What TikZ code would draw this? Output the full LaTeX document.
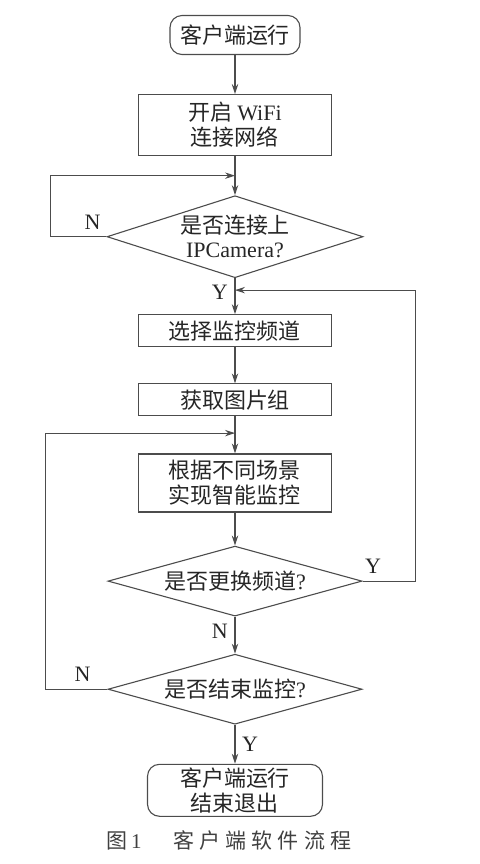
\documentclass[tikz,border=0pt]{standalone}
\usepackage{fontspec}
\setmainfont{Liberation Serif}
\newfontfamily\cjk{Noto Sans CJK SC}
\newfontfamily\cjkcap{Noto Sans CJK SC}[LetterSpace=25]
\usetikzlibrary{positioning,arrows.meta,calc,shapes.geometric}

\begin{document}
\begin{tikzpicture}[
    every node/.style={text=black!85},
    proc/.style={draw=black!70, line width=0.55pt, align=center, minimum width=96.5pt,
        inner sep=0pt, font=\cjk\fontsize{11}{12.5}\selectfont},
    term/.style={proc, rounded corners=6pt},
    decision/.style={draw=black!70, line width=0.55pt, diamond, inner sep=0pt,
        minimum width=128pt, minimum height=41pt},
    dtext/.style={align=center, inner sep=0pt, font=\cjk\fontsize{11}{12}\selectfont},
    yn/.style={font=\fontsize{11}{12}\selectfont},
    arrow/.style={-{Stealth[length=5pt, width=3.2pt]}, draw=black!70, line width=0.55pt}
]
\useasboundingbox (0,0) rectangle (240pt,-432pt);

\node[term, minimum width=65pt, minimum height=19.5pt] (start) at (117.5pt,-17.5pt) {客户端运行};
\node[proc, minimum height=30.5pt, below=19.5pt of start] (wifi) {开启 {\rmfamily WiFi}\\连接网络};
\node[decision, below=19.5pt of wifi] (dec1) {};
\node[dtext] (dec1t) at (dec1) {是否连接上\\{\rmfamily IPCamera?}};
\node[proc, minimum height=16pt, below=18pt of dec1] (sel) {选择监控频道};
\node[proc, minimum height=16pt, below=18pt of sel] (get) {获取图片组};
\node[proc, minimum height=29pt, below=18.5pt of get] (smart) {根据不同场景\\实现智能监控};
\node[decision, minimum width=127pt, minimum height=35pt, below=16.5pt of smart] (dec2) {};
\node[dtext] (dec2t) at (dec2) {是否更换频道{\rmfamily ?}};
\node[decision, minimum width=127pt, minimum height=35pt, below=18.5pt of dec2] (dec3) {};
\node[dtext] (dec3t) at (dec3) {是否结束监控{\rmfamily ?}};
\node[term, minimum width=87.5pt, minimum height=26pt, below=19.5pt of dec3] (stop) {客户端运行\\结束退出};

\node[font=\cjkcap\fontsize{10.5}{12}\selectfont, text=black!75] (cap) at (114.5pt,-420pt)
    {图{\rmfamily\,1}\hspace{1.5em}客户端软件流程};

% main line
\draw[arrow] (start) -- (wifi);
\draw[arrow] (wifi)  -- (dec1);
\draw[arrow] (dec1)  -- node[yn, left, pos=0.4] (y1) {Y} (sel);
\draw[arrow] (sel)   -- (get);
\draw[arrow] (get)   -- (smart);
\draw[arrow] (smart) -- (dec2);
\draw[arrow] (dec2)  -- node[yn, left, pos=0.4] (n2) {N} (dec3);
\draw[arrow] (dec3)  -- node[yn, right, pos=0.5] (y3) {Y} (stop);

% loops back
\coordinate (j1) at ($(wifi.south)!0.5!(dec1.north)$);
\coordinate (j2) at ($(dec1.south)!0.33!(sel.north)$);
\coordinate (j3) at ($(get.south)!0.45!(smart.north)$);
\draw[arrow] (dec1.west) -- node[yn, above, pos=0.25] (n1) {N} ++(-28pt,0) |- (j1);
\draw[arrow] (dec2.east) -- node[yn, above, pos=0.2] (y2) {Y} ++(26.5pt,0) |- (j2);
\draw[arrow] (dec3.west) -- node[yn, above, pos=0.4] (n3) {N} ++(-31pt,0) |- (j3);
\end{tikzpicture}
\end{document}
